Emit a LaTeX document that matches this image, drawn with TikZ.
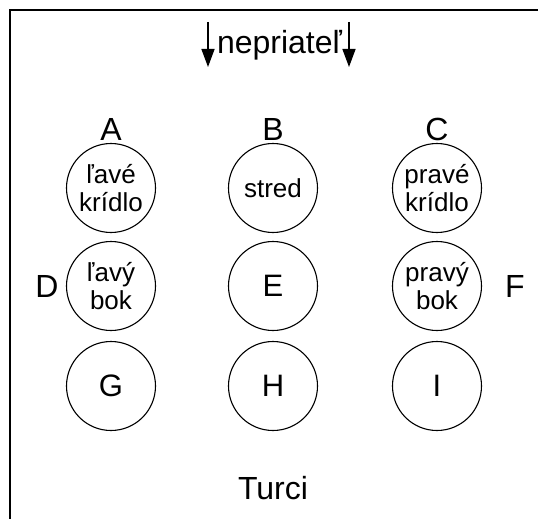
\documentclass[tikz,border=0pt]{standalone}
\usepackage{fontspec}
\setmainfont{Liberation Sans}
\usetikzlibrary{arrows.meta}
\begin{document}
\begin{tikzpicture}[x=1pt,y=-1pt,
  unit/.style={circle,draw,line width=1.1pt,minimum size=89pt,inner sep=0pt,align=center,font=\fontsize{26}{27.5}\selectfont},
  bigtext/.style={font=\fontsize{31}{34}\selectfont},
  lbl/.style={inner sep=0pt,font=\fontsize{32}{35}\selectfont},
  enemyarrow/.style={line width=1.4pt,-{Triangle[width=13pt,length=18pt]}}]
\useasboundingbox (0,0) rectangle (538,519);
\draw[line width=2pt] (9.5,519) -- (9.5,10) -- (538,10);
% enemy
\node[lbl,anchor=base] (en) at (279.5,53) {nepriateľ};
\coordinate (l1) at (208,22);
\coordinate (l2) at (208,67);
\coordinate (r1) at (349,22);
\coordinate (r2) at (349,67);
\draw[enemyarrow] (l1) -- (l2);
\draw[enemyarrow] (r1) -- (r2);
% circles
\node[unit] (a) at (111,188) {ľavé\\krídlo};
\node[unit] (b) at (273,188) {stred};
\node[unit] (c) at (437,188) {pravé\\krídlo};
\node[unit] (d) at (111,286) {ľavý\\bok};
\node[unit,bigtext] (e) at (273,286) {E};
\node[unit] (f) at (437,286) {pravý\\bok};
\node[unit,bigtext] (g) at (111,386) {G};
\node[unit,bigtext] (h) at (273,386) {H};
\node[unit,bigtext] (i) at (437,386) {I};
% labels
\node[lbl] (la) at (111,129) {A};
\node[lbl] (lb) at (273,129) {B};
\node[lbl] (lc) at (437,129) {C};
\node[lbl] (ld) at (47,286) {D};
\node[lbl] (lf) at (515,286) {F};
\node[lbl] (turci) at (273,488) {Turci};
\end{tikzpicture}
\end{document}
